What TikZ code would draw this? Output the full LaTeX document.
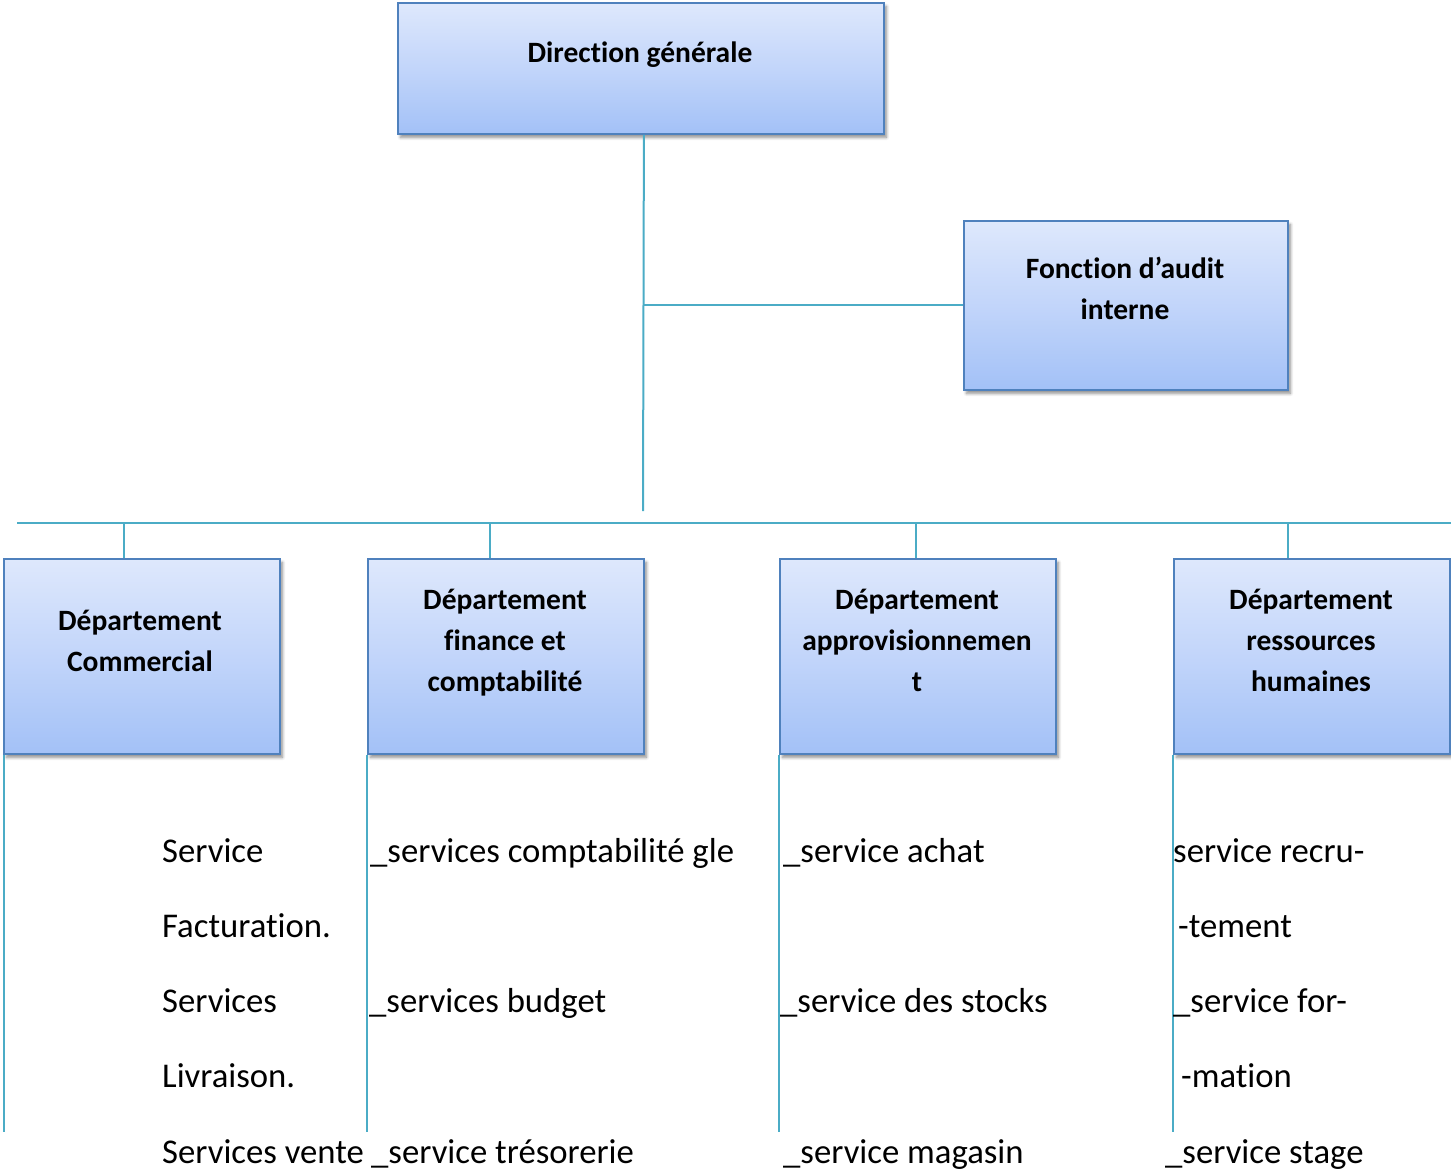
\documentclass[tikz,border=0pt]{standalone}
\usepackage{fontspec}
\setmainfont[Ligatures=NoCommon]{Carlito}
\usetikzlibrary{shadows.blur}

\definecolor{linkc}{HTML}{4BACC6}
\definecolor{framec}{HTML}{4F81BD}
\definecolor{shtop}{HTML}{DEE8FC}
\definecolor{shmid}{HTML}{C2D5FA}
\definecolor{shbot}{HTML}{A3C1F7}

\tikzset{
  unitbox/.style={draw=framec, line width=1.8pt, top color=shtop, bottom color=shbot,
    middle color=shmid, inner sep=0pt, anchor=north west,
    blur shadow={shadow xshift=2.5pt, shadow yshift=-3.5pt, shadow blur steps=6,
      shadow blur radius=3pt, shadow opacity=45}},
  boxtext/.style={font=\fontsize{29.5}{41}\selectfont\bfseries, align=center,
    anchor=base, inner sep=0pt},
  item/.style={font=\fontsize{34.7}{40}\selectfont, anchor=base west, inner sep=0pt},
  link/.style={draw=linkc, line width=2pt}
}

\begin{document}
\begin{tikzpicture}[x=1pt, y=-1pt]
\path[use as bounding box] (0,0) rectangle (1451,1171);

% management boxes
\node[unitbox, minimum width=486pt, minimum height=131pt] (dg) at (397,2) {};
\node[unitbox, minimum width=324pt, minimum height=169pt] (audit) at (963,220) {};

% department boxes
\node[unitbox, minimum width=276pt, minimum height=195pt] (dcom) at (3,558) {};
\node[unitbox, minimum width=276pt, minimum height=195pt] (dfin) at (367,558) {};
\node[unitbox, minimum width=276pt, minimum height=195pt] (dapp) at (779,558) {};
\node[unitbox, minimum width=276pt, minimum height=195pt] (drh) at (1173,558) {};

% box titles (base anchor = baseline of the last line)
\node[boxtext] (tdg) at (640,62) {Direction générale};
\node[boxtext] (taudit) at (1125,319) {Fonction d’audit\\interne};
\node[boxtext] (tcom) at (140,671) {Département\\Commercial};
\node[boxtext] (tfin) at (505,691) {Département\\finance et\\comptabilité};
\node[boxtext] (tapp) at (917,691) {Département\\approvisionnemen\\t};
\node[boxtext] (trh) at (1311,691) {Département\\ressources\\humaines};

% trunk, audit branch and bus
\coordinate (trunk) at (643,511);
\coordinate (busL) at (17,523);
\coordinate (busR) at (1451,523);
\draw[link] ([xshift=3pt]dg.south) -- (trunk);
\draw[link] (audit.west -| trunk) -- (audit.west);
\draw[link] (busL) -- (busR);

% drops to the departments
\draw[link] ([xshift=-18pt]dcom.north) -- ++(0,-35);
\draw[link] ([xshift=-16pt]dfin.north) -- ++(0,-35);
\draw[link] ([xshift=-2pt]dapp.north) -- ++(0,-35);
\draw[link] ([xshift=-24pt]drh.north) -- ++(0,-35);

% service rails
\draw[link] ([xshift=0.5pt]dcom.south west) -- ++(0,377);
\draw[link] (dfin.south west) -- ++(0,377);
\draw[link] (dapp.south west) -- ++(0,377);
\draw[link] (drh.south west) -- ++(0,377);

% services, commercial
\node[item] (c1) at (162,862) {Service};
\node[item] (c2) at (162,937) {Facturation.};
\node[item] (c3) at (162,1012) {Services};
\node[item] (c4) at (162,1087) {Livraison.};
\node[item] (c5) at (162,1163) {Services vente};

% services, finance
\node[item] (f1) at (370,862) {\_services comptabilité gle};
\node[item] (f2) at (369,1012) {\_services budget};
\node[item] (f3) at (371,1163) {\_service trésorerie};

% services, procurement
\node[item] (a1) at (783,862) {\_service achat};
\node[item] (a2) at (780,1012) {\_service des stocks};
\node[item] (a3) at (783,1163) {\_service magasin};

% services, human resources
\node[item] (h1) at (1173,862) {service recru-};
\node[item] (h2) at (1178,937) {-tement};
\node[item] (h3) at (1173,1012) {\_service for-};
\node[item] (h4) at (1181,1087) {-mation};
\node[item] (h5) at (1165,1163) {\_service stage};
\end{tikzpicture}
\end{document}
